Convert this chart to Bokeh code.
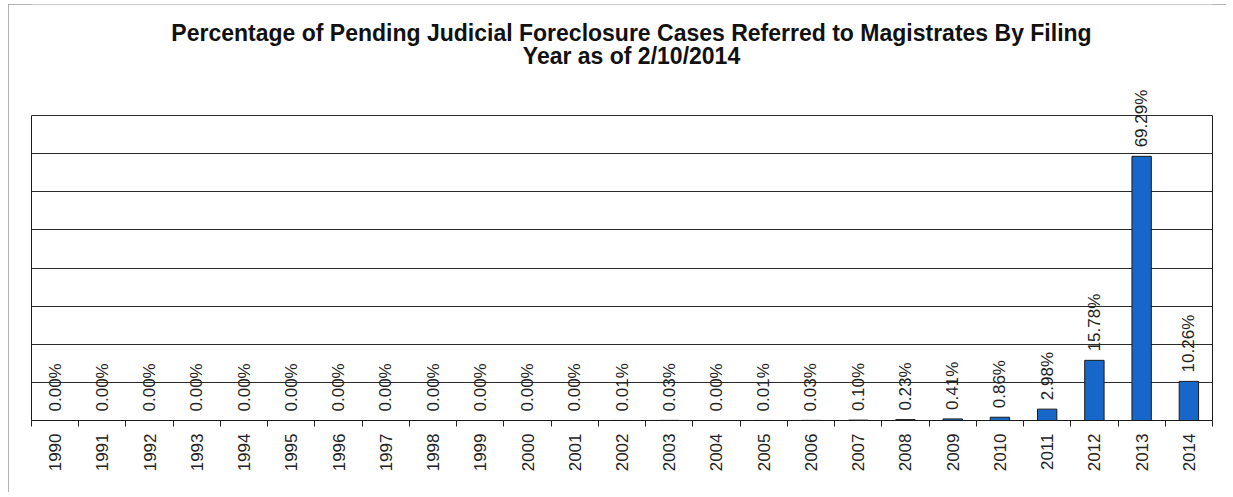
import numpy as np
from bokeh.plotting import figure
from bokeh.models import ColumnDataSource, FixedTicker, Range1d, Label, LinearAxis
from bokeh.embed import file_html
from bokeh.resources import INLINE

years = list(range(1990, 2015))
percents = [0.00, 0.00, 0.00, 0.00, 0.00, 0.00, 0.00, 0.00, 0.00, 0.00,
            0.00, 0.00, 0.01, 0.03, 0.00, 0.01, 0.03, 0.10, 0.23, 0.41,
            0.86, 2.98, 15.78, 69.29, 10.26]
labels = [f"{v:.2f}%" for v in percents]
title_line1 = "Percentage of Pending Judicial Foreclosure Cases Referred to Magistrates By Filing"
title_line2 = "Year as of 2/10/2014"

src = ColumnDataSource(dict(x=years, y=percents, label=labels))

W, H = 1218, 488
Y_TOP = 80                       # top of the boxed plot area
Y_VIEW = Y_TOP * 416 / 305       # headroom so title and labels above the box stay visible
p = figure(width=W, height=H, output_backend="svg", toolbar_location=None,
           x_range=Range1d(years[0] - 0.5, years[-1] + 0.5), y_range=Range1d(0, Y_VIEW),
           min_border_left=23, min_border_right=14, min_border_top=0, min_border_bottom=72)
p.title.visible = False
p.outline_line_color = None

# two centred title lines (screen units, relative to the frame)
for txt, yy in [(title_line1, 388), (title_line2, 365)]:
    p.add_layout(Label(x=600, y=yy, x_units="screen", y_units="screen", text=txt,
                       text_align="center", text_baseline="middle",
                       text_font="Liberation Sans", text_font_style="bold",
                       text_font_size="23px", text_color="#111111"))

p.vbar(x="x", top="y", width=0.41, source=src, fill_color="#1767CB",
       line_color="#1a1a1a", line_width=1)

for xv, yv, lab in zip(years, percents, labels):
    p.add_layout(Label(x=xv, y=yv, text=lab, angle=np.pi / 2,
                       text_align="left", text_baseline="middle", y_offset=9,
                       text_font="Liberation Sans", text_font_size="17px",
                       text_color="#222222"))

# box sides only up to 80
def style_side(ax):
    ax.bounds = (0, Y_TOP)
    ax.ticker = FixedTicker(ticks=[])
    ax.major_tick_line_color = None
    ax.minor_tick_line_color = None
    ax.major_label_text_color = None
    ax.axis_line_color = "#1a1a1a"
    ax.axis_line_width = 1

style_side(p.yaxis[0])
right_ax = LinearAxis()
style_side(right_ax)
p.add_layout(right_ax, "right")

p.ygrid.ticker = FixedTicker(ticks=list(range(10, Y_TOP + 1, 10)))
p.ygrid.grid_line_color = "#2a2a2a"
p.ygrid.grid_line_width = 1
p.xgrid.visible = False

boundaries = [y - 0.5 for y in years] + [years[-1] + 0.5]
p.xaxis.ticker = FixedTicker(ticks=years, minor_ticks=boundaries)
p.xaxis.major_tick_line_color = None
p.xaxis.minor_tick_out = 6
p.xaxis.minor_tick_in = 0
p.xaxis.minor_tick_line_color = "#222222"
p.xaxis.axis_line_color = "#1a1a1a"
p.xaxis.major_label_orientation = np.pi / 2
p.xaxis.major_label_text_font = "Liberation Sans"
p.xaxis.major_label_text_font_size = "17px"
p.xaxis.major_label_text_color = "#222222"
p.xaxis.major_label_standoff = 7
p.xaxis.major_label_overrides = {y: str(y) for y in years}

p.background_fill_color = "white"
p.border_fill_color = "white"
p.styles = {"margin": "4px 0px 0px 8px", "outline": "1px solid #999999",
            "outline-offset": "-1px"}

open("out.html", "w").write(file_html(p, INLINE))
